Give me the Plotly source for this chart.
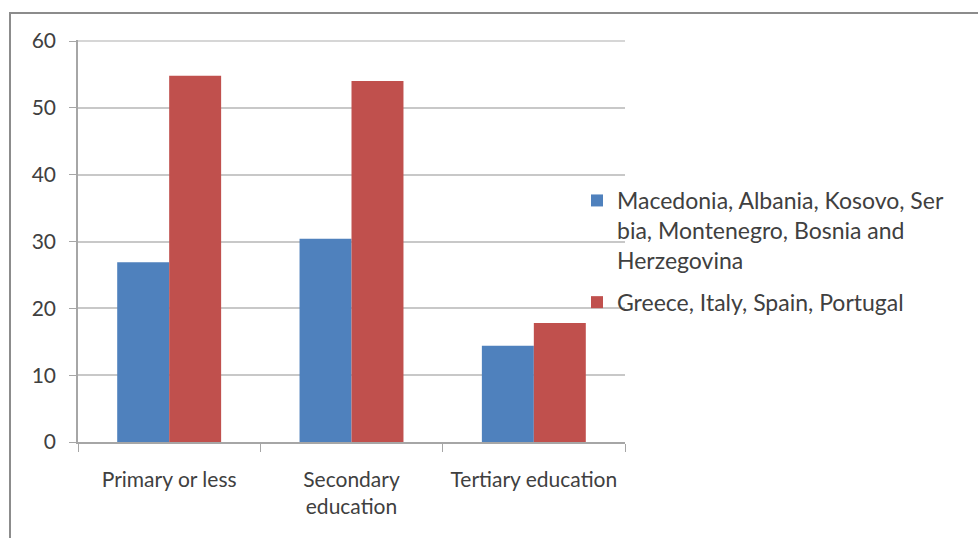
import plotly.graph_objects as go

categories = ["Primary or less", "Secondary<br>education", "Tertiary education"]
balkans_name = "Macedonia, Albania, Kosovo, Ser<br>bia, Montenegro, Bosnia and<br>Herzegovina"
southern_name = "Greece, Italy, Spain, Portugal"
balkans = [26.9, 30.4, 14.4]
southern = [54.8, 54.0, 17.8]
y_ticks = [0, 10, 20, 30, 40, 50, 60]

BLUE = "#4f81bd"
RED = "#c0504d"
FONT = "Lato, 'Open Sans', sans-serif"
TEXT = "#404040"
GRID = "#c8c8c8"

fig = go.Figure()
fig.add_trace(go.Bar(x=categories, y=balkans, name=balkans_name,
                     legendgroup="balkans",
                     marker=dict(color=BLUE, line=dict(width=0))))
fig.add_trace(go.Bar(x=categories, y=southern, name=southern_name,
                     legendgroup="southern",
                     marker=dict(color=RED, line=dict(width=0))))

W, H = 978, 538
L, R, T, B = 78, 353, 40, 96
pw, ph = W - L - R, H - T - B

def px_x(x):
    return (x - L) / pw

def px_y(y):
    return (H - B - y) / ph

fig.update_layout(
    width=W, height=H,
    margin=dict(l=L, r=R, t=T, b=B, autoexpand=False),
    paper_bgcolor="white", plot_bgcolor="white",
    barmode="group", bargap=0.43, bargroupgap=0,
    font=dict(family=FONT, size=21, color=TEXT),
    showlegend=True,
    legend=dict(x=px_x(577), y=px_y(179), xanchor="left", yanchor="top",
                valign="top", font=dict(size=23, color=TEXT),
                traceorder="grouped", tracegroupgap=9, itemwidth=30,
                bgcolor="rgba(0,0,0,0)"),
    xaxis=dict(showline=True, linecolor="#a6a6a6", linewidth=1.5,
               ticks="outside", tickson="boundaries", ticklen=8,
               tickcolor="#a6a6a6", ticklabelstandoff=18,
               tickfont=dict(size=21, color=TEXT), showgrid=False),
    yaxis=dict(range=[0, 60.15], tickvals=y_ticks, showline=True,
               linecolor="#a6a6a6", linewidth=1.5, ticks="outside",
               ticklen=7, tickcolor="#a6a6a6", ticklabelstandoff=9,
               gridcolor=GRID, gridwidth=1.5, zeroline=False,
               tickfont=dict(size=21, color=TEXT)),
    shapes=[
        # outer chart frame
        dict(type="rect", xref="paper", yref="paper",
             x0=px_x(10), x1=px_x(1000), y0=px_y(560), y1=px_y(13),
             line=dict(color="#8c8c8c", width=2), layer="below"),
        # top gridline at the axis maximum
        dict(type="line", xref="paper", yref="y", x0=0, x1=1,
             y0=y_ticks[-1], y1=y_ticks[-1],
             line=dict(color=GRID, width=1.5), layer="below"),
    ],
)

fig.write_html("out.html")
